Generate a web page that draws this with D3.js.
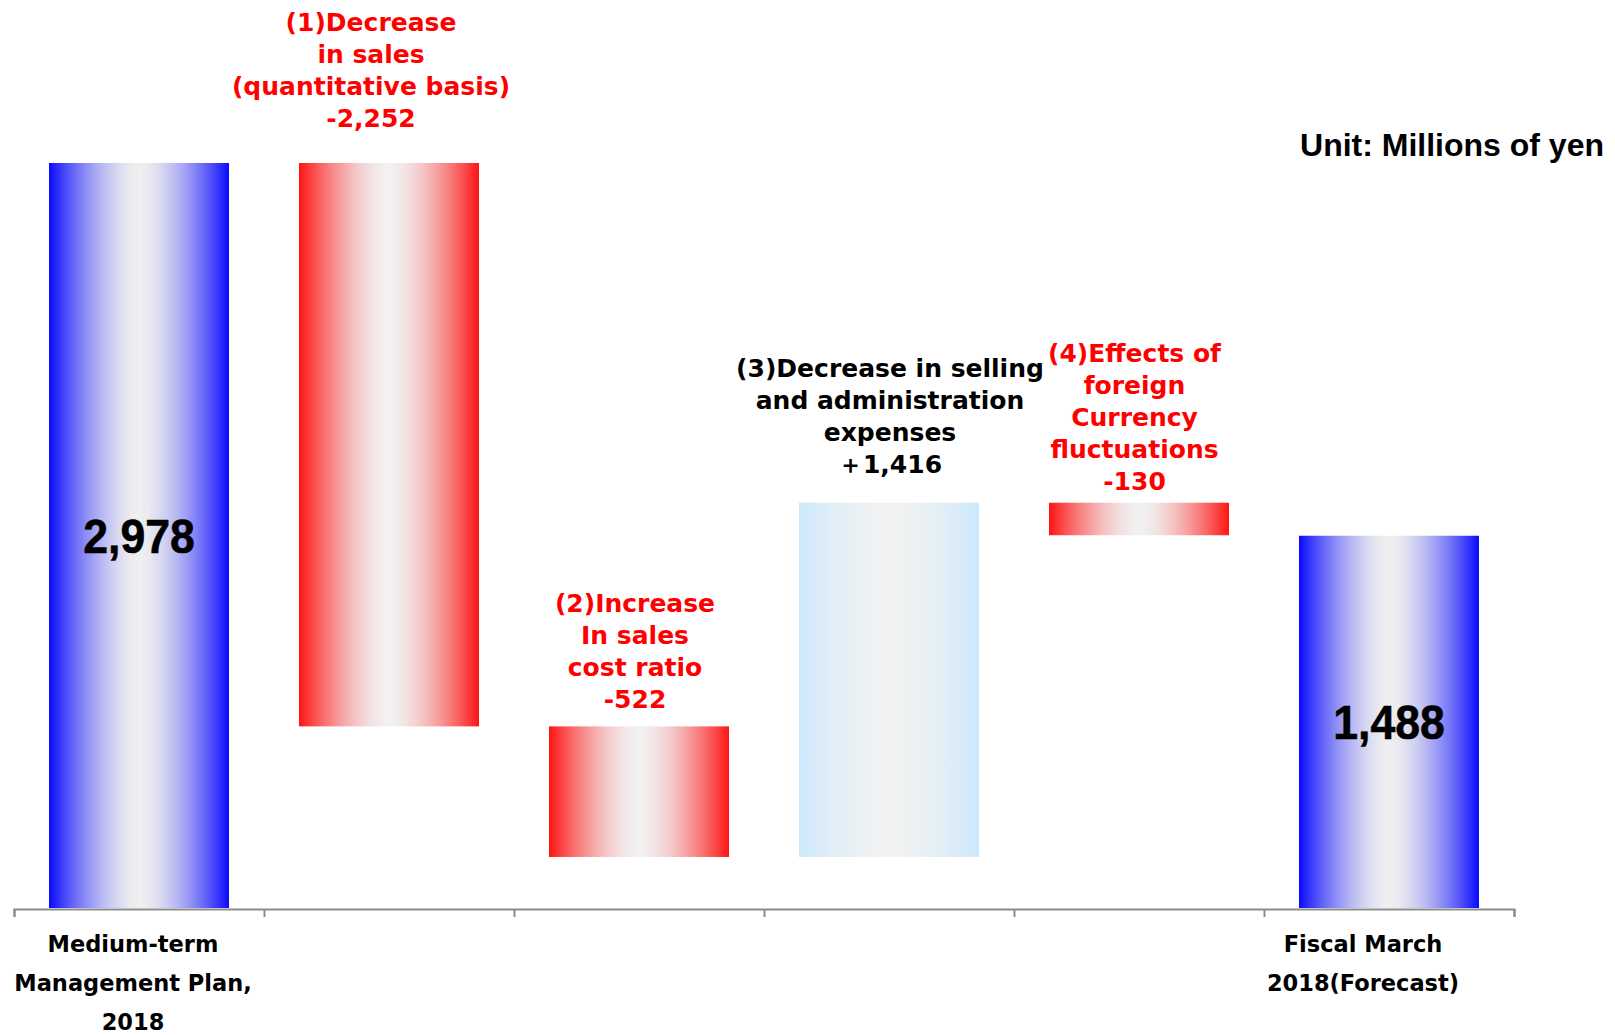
<!DOCTYPE html>
<html>
<head>
<meta charset="utf-8">
<script src="https://cdn.jsdelivr.net/npm/d3@7"></script>
<style>
  html, body { margin: 0; padding: 0; background: #fff; }
  svg { display: block; }
</style>
</head>
<body>
<svg id="chart" width="1615" height="1035"></svg>
<script>
// Operating income bridge: plan -> forecast, millions of yen
const categories = ["plan", "sales", "costRatio", "sga", "fx", "forecast"];
const startValue = 2978;
const changes = [-2252, -522, 1416, -130];
const endValue = 1488;
const totalLabels = ["2,978", "1,488"];
const changeLabels = [
  ["(1)Decrease", "in sales", "(quantitative basis)", "-2,252"],
  ["(2)Increase", "In sales", "cost ratio", "-522"],
  ["(3)Decrease in selling", "and administration", "expenses", "\uFF0B1,416"],
  ["(4)Effects of", "foreign", "Currency", "fluctuations", "-130"]
];
const tickLabels = [
  ["Medium-term", "Management Plan,", "2018"],
  [], [], [], [],
  ["Fiscal March", "2018(Forecast)"]
];
const unitLabel = "Unit: Millions of yen";

// ---- layout ----
const svg = d3.select("#chart");
const baseY = 908;
const x = d3.scaleBand().domain(categories).range([14, 1514]).padding(0);
const barW = x.bandwidth() * 0.72;
const y = d3.scaleLinear().domain([0, startValue]).range([baseY, 163]);

const changeStyle = [
  { kind: "red",   text: "#ff0000", dx: -18, gap: 36.5 },
  { kind: "red",   text: "#ff0000", dx: -4,  gap: 18.5 },
  { kind: "sky",   text: "#000000", dx: 1,   gap: 29.5 },
  { kind: "red",   text: "#ff0000", dx: -4.5, gap: 13 }
];
const tickStyle = [{ dx: -6 }, {}, {}, {}, {}, { dx: -26 }];

// ---- gradients: saturated edges fading to a pale grey centre ----
const defs = svg.append("defs");
const palettes = {
  blue: { edge: "#0a0aff", mid: "#f0f0f0" },
  red:  { edge: "#ff1414", mid: "#f2f2f2" },
  sky:  { edge: "#cbe8fb", mid: "#f2f2f2" }
};
Object.entries(palettes).forEach(([id, p]) => {
  const g = defs.append("linearGradient").attr("id", "grad-" + id)
    .attr("x1", "0%").attr("x2", "100%").attr("y1", "0%").attr("y2", "0%");
  const mix = d3.interpolateRgb(p.mid, p.edge);
  d3.range(0, 1.0001, 0.05).forEach(o => {
    const t = Math.abs(o - 0.5) / 0.5;
    g.append("stop").attr("offset", (o * 100).toFixed(1) + "%")
      .attr("stop-color", mix(Math.pow(t, 1.6)));
  });
});

// ---- build bar records from values ----
const bars = [];
bars.push({ cat: categories[0], y0: 0, y1: startValue, kind: "blue", total: totalLabels[0] });
let running = startValue;
changes.forEach((d, i) => {
  const from = running, to = running + d;
  bars.push({ cat: categories[i + 1], y0: Math.min(from, to), y1: Math.max(from, to),
              kind: changeStyle[i].kind, change: i });
  running = to;
});
bars.push({ cat: categories[5], y0: 0, y1: endValue, kind: "blue", total: totalLabels[1] });

const cx = c => x(c) + x.bandwidth() / 2;

svg.append("g").selectAll("rect").data(bars).join("rect")
  .attr("x", d => cx(d.cat) - barW / 2)
  .attr("width", barW)
  .attr("y", d => y(d.y1))
  .attr("height", d => y(d.y0) - y(d.y1))
  .attr("fill", d => "url(#grad-" + d.kind + ")");

// total values inside the blue bars
svg.append("g").selectAll("text").data(bars.filter(d => d.total)).join("text")
  .attr("transform", d => `translate(${cx(d.cat)},${(y(d.y0) + y(d.y1)) / 2 + 17}) scale(0.93,1)`)
  .attr("text-anchor", "middle")
  .attr("font-family", "'Liberation Sans', Arial, sans-serif")
  .attr("font-weight", "bold")
  .attr("font-size", 48)
  .attr("fill", "#000")
  .attr("stroke", "#000")
  .attr("stroke-width", 0.6)
  .text(d => d.total);

// change labels above each floating bar
const changeBars = bars.filter(d => d.change !== undefined);
changeBars.forEach(d => {
  const st = changeStyle[d.change];
  const lines = changeLabels[d.change];
  const lastBase = y(d.y1) - st.gap;
  const t = svg.append("text")
    .attr("text-anchor", "middle")
    .attr("font-family", "'DejaVu Sans', Verdana, sans-serif")
    .attr("font-weight", "bold")
    .attr("font-size", 25)
    .attr("fill", st.text);
  lines.forEach((ln, k) => {
    t.append("tspan")
      .attr("x", cx(d.cat) + st.dx)
      .attr("y", lastBase - (lines.length - 1 - k) * 32)
      .text(ln);
  });
});

// category axis with tick marks between categories
const xb = d3.scaleLinear().domain([0, categories.length]).range(x.range());
const axis = svg.append("g").attr("transform", `translate(0,${baseY + 1})`)
  .call(d3.axisBottom(xb).ticks(categories.length).tickFormat("").tickSizeInner(8).tickSizeOuter(8));
axis.select(".domain").attr("stroke", "#8c8c8c").attr("stroke-width", 2);
axis.selectAll(".tick line").attr("stroke", "#8c8c8c").attr("stroke-width", 2);

categories.forEach((c, i) => {
  const lines = tickLabels[i];
  if (!lines.length) return;
  const t = svg.append("text")
    .attr("text-anchor", "middle")
    .attr("font-family", "'DejaVu Sans', Verdana, sans-serif")
    .attr("font-weight", "bold")
    .attr("font-size", 22.5)
    .attr("fill", "#000");
  lines.forEach((ln, k) => {
    t.append("tspan")
      .attr("x", cx(c) + (tickStyle[i].dx || 0))
      .attr("y", 952 + k * 39)
      .text(ln);
  });
});

// unit note
svg.append("text")
  .attr("x", 1604).attr("y", 156)
  .attr("text-anchor", "end")
  .attr("font-family", "'Liberation Sans', Arial, sans-serif")
  .attr("font-weight", "bold")
  .attr("font-size", 32)
  .attr("fill", "#000")
  .text(unitLabel);
</script>
</body>
</html>
